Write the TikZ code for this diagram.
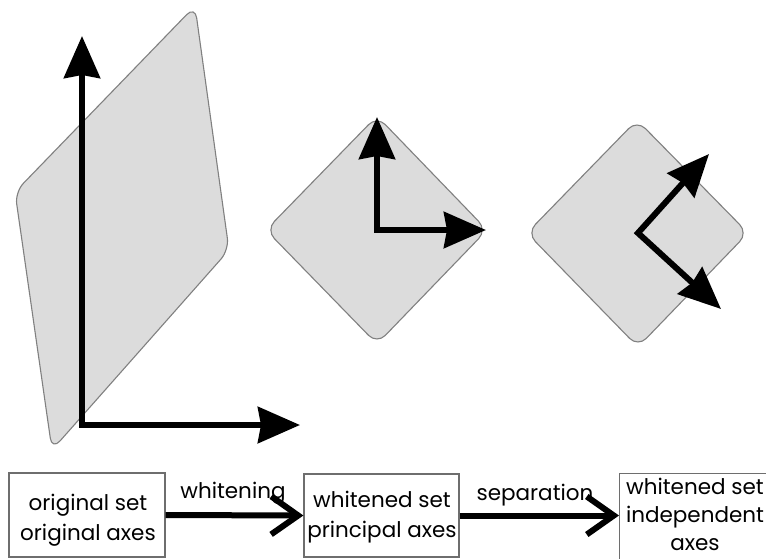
\documentclass[tikz,border=0pt]{standalone}
\usepackage{fontspec}
\setmainfont{Poppins}
\usetikzlibrary{arrows.meta}
\definecolor{sheet}{HTML}{DCDCDC}
\definecolor{sheetedge}{HTML}{808080}
\definecolor{boxedge}{HTML}{6E6E6E}
\tikzset{
  sheetshape/.style={fill=sheet, draw=sheetedge, line width=1.1pt, rounded corners=12pt},
  axis/.style={line width=6pt, line join=miter,
    {Stealth[length=42pt,width=36pt,inset=3pt]}-{Stealth[length=42pt,width=36pt,inset=3pt]}},
  stagebox/.style={draw=boxedge, line width=1.2pt, fill=white, inner sep=0pt},
  stagetext/.style={align=center, inner sep=0pt, font=\fontsize{21.5}{30}\selectfont},
  conn/.style={line width=6pt, -{Straight Barb[length=27pt,width=38pt,line width=6pt]}},
  connlabel/.style={font=\fontsize{21.5}{24}\selectfont, inner sep=0pt}
}
\begin{document}
\begin{tikzpicture}[x=1pt,y=-1pt]
\useasboundingbox (0,0) rectangle (766,558);
\fill[white] (0,0) rectangle (766,558);

% skewed data sheet with the original axes
\draw[sheetshape] (15,192) -- (195,6) -- (229,250) -- (52,450) -- cycle;
\coordinate (o1) at (82,425);
\coordinate (y1) at (82,36);
\coordinate (x1) at (300,425);
\draw[axis] (y1) -- (o1) -- (x1);

% whitened sheet with principal axes
\draw[sheetshape] (377,116) -- (487,230) -- (377,344) -- (266,230) -- cycle;
\coordinate (o2) at (377,230);
\coordinate (y2) at (377,117);
\coordinate (x2) at (486,230);
\draw[axis] (y2) -- (o2) -- (x2);

% whitened sheet with independent axes
\draw[sheetshape] (637,120) -- (748,233) -- (638,347) -- (527,233) -- cycle;
\coordinate (o3) at (638,233);
\coordinate (a3) at (709,154);
\coordinate (b3) at (721,309);
\draw[axis] (a3) -- (o3) -- (b3);

% processing chain
\node[stagebox, minimum width=156pt, minimum height=84pt] (s1) at (87,515) {};
\node[stagebox, minimum width=155pt, minimum height=83pt] (s2) at (381.5,515.5) {};
\node[stagebox, minimum width=400pt, minimum height=200pt, anchor=north west] (s3) at (619,473) {};
\node[stagetext] (t1) at (88,520) {original set\\original axes};
\node[stagetext] (t2) at (382,517) {whitened set\\principal axes};
\node[stagetext, font=\fontsize{21.5}{28}\selectfont, anchor=north] (t3) at (695,478)
  {whitened set\\independent\\axes};

\draw[conn] (s1.east) -- (s2.west);
\draw[conn] (s2.east) -- (s3.west |- s2.east);
\node[connlabel] (l1) at (233,493) {whitening};
\node[connlabel] (l2) at (535,495) {separation};
\end{tikzpicture}
\end{document}
